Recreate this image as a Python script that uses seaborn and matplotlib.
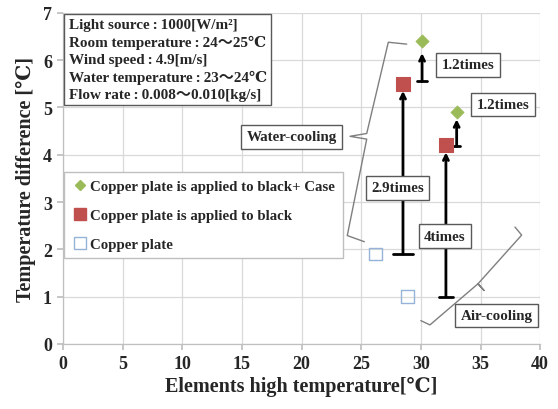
import matplotlib
matplotlib.use("Agg")
import matplotlib.pyplot as plt
import seaborn as sns
import pandas as pd
from matplotlib.lines import Line2D

# ---- data ----
case_x = [30.1, 33.0]
case_y = [6.4, 4.9]
black_x = [28.5, 32.1]
black_y = [5.5, 4.2]
plate_x = [26.2, 28.9]
plate_y = [1.9, 1.0]

series_labels = ["Copper plate is applied to black+ Case",
                 "Copper plate is applied to black",
                 "Copper plate"]
ratio_labels = ["2.9times", "4times", "1.2times", "1.2times"]
info_lines = ["Light source\u2009:\u20091000[W/m²]",
              "Room temperature\u2009:\u200924～25℃",
              "Wind speed\u2009:\u20094.9[m/s]",
              "Water temperature\u2009:\u200923～24℃",
              "Flow rate\u2009:\u20090.008～0.010[kg/s]"]
x_ticks = [0, 5, 10, 15, 20, 25, 30, 35, 40]
y_ticks = [0, 1, 2, 3, 4, 5, 6, 7]

sns.set_theme(style="white")
FAM = ["Liberation Serif", "DejaVu Serif", "Noto Sans CJK JP"]
plt.rcParams["font.family"] = FAM
plt.rcParams["font.weight"] = "bold"

fig = plt.figure(figsize=(5.58, 4.10), dpi=100)
ax = fig.add_axes([0.113, 0.159, 0.855, 0.807])

df = pd.DataFrame({
    "x": case_x + black_x + plate_x,
    "y": case_y + black_y + plate_y,
    "s": [series_labels[0]] * 2 + [series_labels[1]] * 2 + [series_labels[2]] * 2,
})

green = "#9BBB59"
red = "#C0504D"
blue = "#95B3D7"

sns.scatterplot(data=df[df.s == series_labels[0]], x="x", y="y", marker="D",
                s=45, color=green, edgecolor=green, ax=ax, legend=False, zorder=5)
sns.scatterplot(data=df[df.s == series_labels[1]], x="x", y="y", marker="s",
                s=95, color=red, edgecolor=red, ax=ax, legend=False, zorder=5)
ax.scatter(plate_x, plate_y, marker="s", s=85, facecolors="none",
           edgecolors=blue, linewidths=1.0, zorder=5)

ax.set_xlim(0, 40)
ax.set_ylim(0, 7)
ax.set_xticks(x_ticks)
ax.set_yticks(y_ticks)
ax.grid(True, color="#d9d9d9", linewidth=0.9)
ax.set_axisbelow(True)
for sp in ["top", "right"]:
    ax.spines[sp].set_visible(False)
for sp in ["left", "bottom"]:
    ax.spines[sp].set_color("#bfbfbf")
    ax.spines[sp].set_linewidth(0.9)
ax.tick_params(axis="both", which="both", length=4, color="#bfbfbf",
               labelsize=13, direction="out", bottom=True, left=True, pad=4)
for lab in ax.get_xticklabels() + ax.get_yticklabels():
    lab.set_fontweight("bold")
ax.set_xlabel("Elements high temperature[℃]", fontsize=14.5, fontweight="bold", labelpad=3)
ax.set_ylabel("Temperature difference [℃]", fontsize=14.5, fontweight="bold", labelpad=5)

# ---- arrows ----
def t_arrow(x, y0, y1, half):
    ax.plot([x - half, x + half], [y0, y0], color="black", lw=2, zorder=4)
    ax.annotate("", xy=(x, y1), xytext=(x, y0),
                arrowprops=dict(arrowstyle="->", lw=2, color="black",
                                shrinkA=0, shrinkB=0, mutation_scale=9), zorder=4)

t_arrow(black_x[0], plate_y[0], black_y[0] - 0.15, 0.8)
t_arrow(black_x[1], plate_y[1], black_y[1] - 0.15, 0.6)
t_arrow(case_x[0], black_y[0] + 0.05, case_y[0] - 0.25, 0.4)
t_arrow(case_x[1], black_y[1] - 0.02, case_y[1] - 0.15, 0.3)

box = dict(boxstyle="square,pad=0.35", facecolor="white", edgecolor="#595959", linewidth=1)
kw = dict(fontsize=10.8, fontweight="bold", ha="center", va="center", bbox=box, zorder=6)
ax.text(28.06, 3.30, ratio_labels[0], **kw)
ax.text(32.02, 2.28, ratio_labels[1], **kw)
ax.text(33.95, 5.90, ratio_labels[2], **kw)
ax.text(36.88, 5.06, ratio_labels[3], **kw)
ax.text(19.17, 4.38, "Water-cooling", **kw)
ax.text(36.35, 0.60, "Air-cooling", **kw)

# ---- braces ----
wx = [28.81, 27.27, 25.46, 24.06, 25.46, 23.83, 25.26]
wy = [6.34, 6.38, 4.45, 4.39, 4.33, 2.29, 2.16]
ax.plot(wx, wy, color="#7f7f7f", lw=1.0, zorder=3)
axx = [37.89, 38.45, 34.79, 35.29, 34.79, 30.76, 30.0]
axy = [2.47, 2.30, 1.27, 1.13, 1.27, 0.40, 0.49]
ax.plot(axx, axy, color="#7f7f7f", lw=1.0, zorder=3)

# ---- info box ----
ax.text(0.012, 0.984, "\n".join(info_lines), transform=ax.transAxes,
        fontsize=10.9, fontweight="bold", ha="left", va="top", linespacing=1.36,
        bbox=dict(boxstyle="square,pad=0.3", facecolor="white", edgecolor="#595959", linewidth=1),
        zorder=6)

# ---- legend ----
handles = [
    Line2D([], [], marker="D", linestyle="none", color=green, markersize=5),
    Line2D([], [], marker="s", linestyle="none", color=red, markersize=8),
    Line2D([], [], marker="s", linestyle="none", markerfacecolor="none",
           markeredgecolor=blue, markersize=8),
]
leg = ax.legend(handles, series_labels, loc="upper left", bbox_to_anchor=(-0.005, 0.528),
                prop={"family": FAM, "weight": "bold", "size": 10.7},
                frameon=True, fancybox=False, edgecolor="#bfbfbf", framealpha=1,
                labelspacing=1.05, handletextpad=0.1, handlelength=1.2, borderpad=0.5,
                borderaxespad=0.2)
leg.get_frame().set_linewidth(1)
leg.set_zorder(6)

fig.savefig("out.png", dpi=100)
